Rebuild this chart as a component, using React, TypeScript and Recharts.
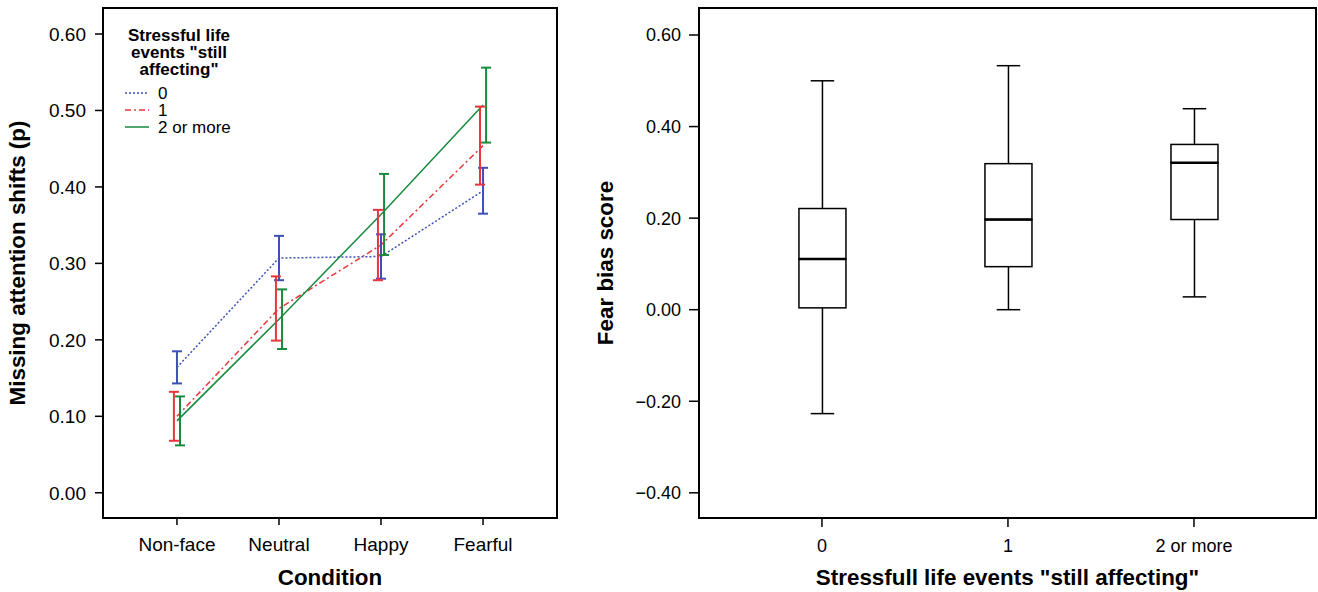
import React from "react";
import {
  ComposedChart,
  Line,
  Scatter,
  ErrorBar,
  Bar,
  XAxis,
  YAxis,
  Legend,
  Label,
  ReferenceArea,
} from "recharts";

// left panel: mean proportion of missed attention shifts per condition
const conditions = ["Non-face", "Neutral", "Happy", "Fearful"];
const groupNames = ["0", "1", "2 or more"];
const mean0 = [0.164, 0.307, 0.309, 0.395];
const err0 = [0.021, 0.029, 0.029, 0.03];
const mean1 = [0.1, 0.241, 0.324, 0.454];
const err1 = [0.032, 0.042, 0.046, 0.051];
const mean2 = [0.094, 0.227, 0.364, 0.507];
const err2 = [0.032, 0.039, 0.053, 0.049];
const leftTicks = [0, 0.1, 0.2, 0.3, 0.4, 0.5, 0.6];
const leftDomain = [-0.033, 0.634];
const legendTitle = ["Stressful life", 'events "still', 'affecting"'];

// right panel: fear bias score box plots
const boxGroups = ["0", "1", "2 or more"];
const whiskerLow = [-0.227, 0.0, 0.028];
const quart1 = [0.004, 0.094, 0.197];
const medians = [0.111, 0.197, 0.321];
const quart3 = [0.221, 0.319, 0.361];
const whiskerHigh = [0.5, 0.533, 0.439];
const rightTicks = [-0.4, -0.2, 0, 0.2, 0.4, 0.6];
const rightDomain = [-0.455, 0.659];

const series = [
  { key: "s0", name: groupNames[0], color: "#3d50b8", dash: "2 2", means: mean0, errs: err0, dx: 0 },
  { key: "s1", name: groupNames[1], color: "#e8363c", dash: "6 3 2 3", means: mean1, errs: err1, dx: -0.03 },
  { key: "s2", name: groupNames[2], color: "#178a3c", dash: undefined, means: mean2, errs: err2, dx: 0.03 },
];

const lineData = conditions.map((c, i) => ({
  x: i,
  s0: mean0[i],
  s1: mean1[i],
  s2: mean2[i],
}));

const boxData = boxGroups.map((g, i) => ({
  x: i,
  base: whiskerLow[i],
  lw: quart1[i] - whiskerLow[i],
  lb: medians[i] - quart1[i],
  hb: quart3[i] - medians[i],
  hw: whiskerHigh[i] - quart3[i],
}));

const FONT = "'Liberation Sans', Arial, Helvetica, sans-serif";
const axisLine = { stroke: "#000", strokeWidth: 2 };
const tickLine = { stroke: "#000", strokeWidth: 1.5 };
const TITLE_SIZE = 22.4;

function LegendBox() {
  return (
    <svg width={150} height={112} style={{ fontFamily: FONT }}>
      {legendTitle.map((t, i) => (
        <text key={t} x={69} y={17 + i * 17} textAnchor="middle" fontWeight="bold" fontSize={17} fill="#000">
          {t}
        </text>
      ))}
      {series.map((s, i) => (
        <g key={s.key}>
          <line x1={15} x2={39} y1={69 + i * 17} y2={69 + i * 17} stroke={s.color} strokeWidth={1.5} strokeDasharray={s.dash} />
          <text x={48} y={75 + i * 17} fontSize={17} fill="#000">
            {s.name}
          </text>
        </g>
      ))}
    </svg>
  );
}

function yTitle(text: string, dx: number) {
  return (props: any) => {
    const vb = props.viewBox;
    const cx = vb.x + dx;
    const cy = vb.y + vb.height / 2;
    return (
      <text x={cx} y={cy} transform={`rotate(-90 ${cx} ${cy})`} textAnchor="middle" fontWeight="bold" fontSize={TITLE_SIZE} fill="#000">
        {text}
      </text>
    );
  };
}

function xTitle(text: string) {
  return (props: any) => {
    const vb = props.viewBox;
    return (
      <text x={vb.x + vb.width / 2} y={vb.y + 67} textAnchor="middle" fontWeight="bold" fontSize={TITLE_SIZE} fill="#000">
        {text}
      </text>
    );
  };
}

const stroke = { stroke: "#000", strokeWidth: 1.5 };

const LowWhisker = (p: any) => {
  const cx = p.x + p.width / 2;
  const bottom = p.y + p.height;
  return (
    <g>
      <line x1={cx} x2={cx} y1={p.y} y2={bottom} {...stroke} />
      <line x1={cx - p.width / 4} x2={cx + p.width / 4} y1={bottom} y2={bottom} {...stroke} />
    </g>
  );
};

const HighWhisker = (p: any) => {
  const cx = p.x + p.width / 2;
  return (
    <g>
      <line x1={cx} x2={cx} y1={p.y} y2={p.y + p.height} {...stroke} />
      <line x1={cx - p.width / 4} x2={cx + p.width / 4} y1={p.y} y2={p.y} {...stroke} />
    </g>
  );
};

const LowBox = (p: any) => <rect x={p.x} y={p.y} width={p.width} height={p.height} fill="#fff" {...stroke} />;

const HighBox = (p: any) => (
  <g>
    <rect x={p.x} y={p.y} width={p.width} height={p.height} fill="#fff" {...stroke} />
    <line x1={p.x} x2={p.x + p.width} y1={p.y + p.height} y2={p.y + p.height} stroke="#000" strokeWidth={2.5} />
  </g>
);

const Empty = () => <g />;

export default function App() {
  return (
    <div style={{ position: "absolute", left: 0, top: 0, width: 1318, height: 592, background: "#fff", fontFamily: FONT }}>
      <div style={{ position: "absolute", left: 0, top: 0 }}>
        <ComposedChart width={560} height={592} data={lineData} margin={{ top: 8, right: 3, bottom: 0, left: 0 }}>
          <XAxis
            type="number"
            dataKey="x"
            domain={[-0.725, 3.725]}
            ticks={[0, 1, 2, 3]}
            interval={0}
            allowDataOverflow
            tickFormatter={(v: number) => conditions[v]}
            height={74}
            tickSize={7}
            tickMargin={13}
            tick={{ fill: "#000", fontSize: 19 }}
            axisLine={axisLine}
            tickLine={tickLine}
          >
            <Label content={xTitle("Condition")} />
          </XAxis>
          <YAxis
            type="number"
            domain={leftDomain}
            ticks={leftTicks}
            interval={0}
            allowDataOverflow
            tickFormatter={(v: number) => v.toFixed(2)}
            width={103}
            tickSize={8}
            tickMargin={9}
            tick={{ fill: "#000", fontSize: 19 }}
            axisLine={axisLine}
            tickLine={tickLine}
          >
            <Label content={yTitle("Missing attention shifts (p)", 25)} />
          </YAxis>
          <ReferenceArea y1={leftDomain[0]} y2={leftDomain[1]} ifOverflow="visible" fill="none" stroke="#000" strokeWidth={2} />
          {series.map((s) => (
            <Line
              key={s.key}
              type="linear"
              dataKey={s.key}
              name={s.name}
              stroke={s.color}
              strokeWidth={1.5}
              strokeDasharray={s.dash}
              dot={false}
              activeDot={false}
              isAnimationActive={false}
            />
          ))}
          {series.map((s) => (
            <Scatter
              key={s.key + "err"}
              data={s.means.map((m, i) => ({ x: i + s.dx, y: m, e: s.errs[i] }))}
              dataKey="y"
              legendType="none"
              shape={Empty}
              isAnimationActive={false}
            >
              <ErrorBar dataKey="e" direction="y" width={5} stroke={s.color} strokeWidth={2} />
            </Scatter>
          ))}
          <Legend
            layout="vertical"
            align="center"
            verticalAlign="middle"
            content={LegendBox}
            wrapperStyle={{ left: 110, top: 24, width: 150, height: 112 }}
          />
        </ComposedChart>
      </div>
      <div style={{ position: "absolute", left: 560, top: 0 }}>
        <ComposedChart width={758} height={592} data={boxData} margin={{ top: 8, right: 2, bottom: 0, left: 0 }}>
          <XAxis
            type="number"
            dataKey="x"
            domain={[-0.661, 2.656]}
            ticks={[0, 1, 2]}
            interval={0}
            allowDataOverflow
            tickFormatter={(v: number) => boxGroups[v]}
            height={74}
            tickSize={9}
            tickMargin={12}
            tick={{ fill: "#000", fontSize: 18 }}
            axisLine={axisLine}
            tickLine={tickLine}
          >
            <Label content={xTitle('Stressfull life events "still affecting"')} />
          </XAxis>
          <YAxis
            type="number"
            domain={rightDomain}
            ticks={rightTicks}
            interval={0}
            allowDataOverflow
            tickFormatter={(v: number) => (v < 0 ? "\u2212" + Math.abs(v).toFixed(2) : v.toFixed(2))}
            width={139}
            tickSize={10}
            tickMargin={8}
            tick={{ fill: "#000", fontSize: 18 }}
            axisLine={axisLine}
            tickLine={tickLine}
          >
            <Label content={yTitle("Fear bias score", 53)} />
          </YAxis>
          <ReferenceArea y1={rightDomain[0]} y2={rightDomain[1]} ifOverflow="visible" fill="none" stroke="#000" strokeWidth={2} />
          <Bar dataKey="base" stackId="box" barSize={47} shape={Empty} isAnimationActive={false} />
          <Bar dataKey="lw" stackId="box" barSize={47} shape={LowWhisker} isAnimationActive={false} />
          <Bar dataKey="lb" stackId="box" barSize={47} shape={LowBox} isAnimationActive={false} />
          <Bar dataKey="hb" stackId="box" barSize={47} shape={HighBox} isAnimationActive={false} />
          <Bar dataKey="hw" stackId="box" barSize={47} shape={HighWhisker} isAnimationActive={false} />
        </ComposedChart>
      </div>
    </div>
  );
}
